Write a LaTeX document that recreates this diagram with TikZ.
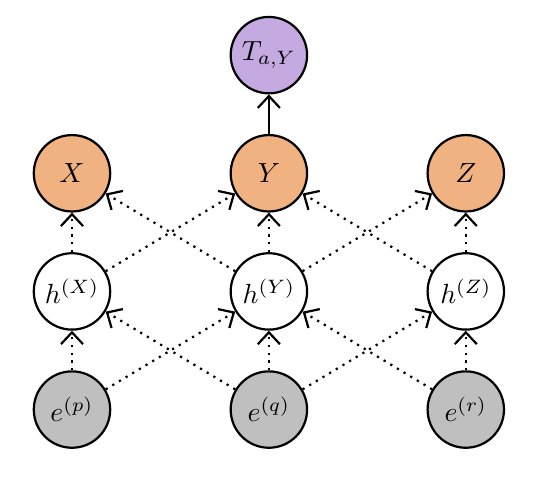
\documentclass[tikz,border=0pt]{standalone}
\usetikzlibrary{arrows.meta, positioning}
\definecolor{obsOrange}{RGB}{240, 178, 128}
\definecolor{targetPurple}{RGB}{196, 170, 224}
\definecolor{embedGray}{RGB}{191, 191, 191}
\tikzset{
    unit/.style={
        circle,
        draw=black,
        thick,
        minimum size=0.97cm,
        inner sep=0pt,
        fill=white
    },
    observed/.style={
        unit,
        fill=obsOrange
    },
    target/.style={
        unit,
        fill=targetPurple
    },
    embedding/.style={
        unit,
        fill=embedGray
    },
    solidEdge/.style={
        thick,
        -{Straight Barb[length=1.5mm, width=2.8mm]}
    },
    dottedEdge/.style={
        thick,
        dotted,
        -{Straight Barb[length=1.5mm, width=2.8mm]}
    }
}
\begin{document}
\begin{tikzpicture}
    \useasboundingbox (-0.914, -0.85) rectangle (6.12, 5.2);

    % Embeddings
    \node[embedding] (ep) at (0, 0) {$e^{(p)}$};
    \node[embedding] (eq) at (2.5, 0) {$e^{(q)}$};
    \node[embedding] (er) at (5, 0) {$e^{(r)}$};

    % Hidden states
    \node[unit] (hX) at (0, 1.5) {$h^{(X)}$};
    \node[unit] (hY) at (2.5, 1.5) {$h^{(Y)}$};
    \node[unit] (hZ) at (5, 1.5) {$h^{(Z)}$};

    % Outputs
    \node[observed] (X) at (0, 3) {$X$};
    \node[observed] (Y) at (2.5, 3) {$Y$};
    \node[observed] (Z) at (5, 3) {$Z$};

    \node[target] (T) at (2.5, 4.5) {$T_{a,Y}$};

    % Edges
    \draw[dottedEdge] (ep) -- (hX);
    \draw[dottedEdge] (ep) -- (hY);
    \draw[dottedEdge] (eq) -- (hX);
    \draw[dottedEdge] (eq) -- (hY);
    \draw[dottedEdge] (eq) -- (hZ);
    \draw[dottedEdge] (er) -- (hY);
    \draw[dottedEdge] (er) -- (hZ);

    \draw[dottedEdge] (hX) -- (X);
    \draw[dottedEdge] (hX) -- (Y);
    \draw[dottedEdge] (hY) -- (X);
    \draw[dottedEdge] (hY) -- (Y);
    \draw[dottedEdge] (hY) -- (Z);
    \draw[dottedEdge] (hZ) -- (Y);
    \draw[dottedEdge] (hZ) -- (Z);

    \draw[solidEdge] (Y) -- (T);
\end{tikzpicture}
\end{document}
